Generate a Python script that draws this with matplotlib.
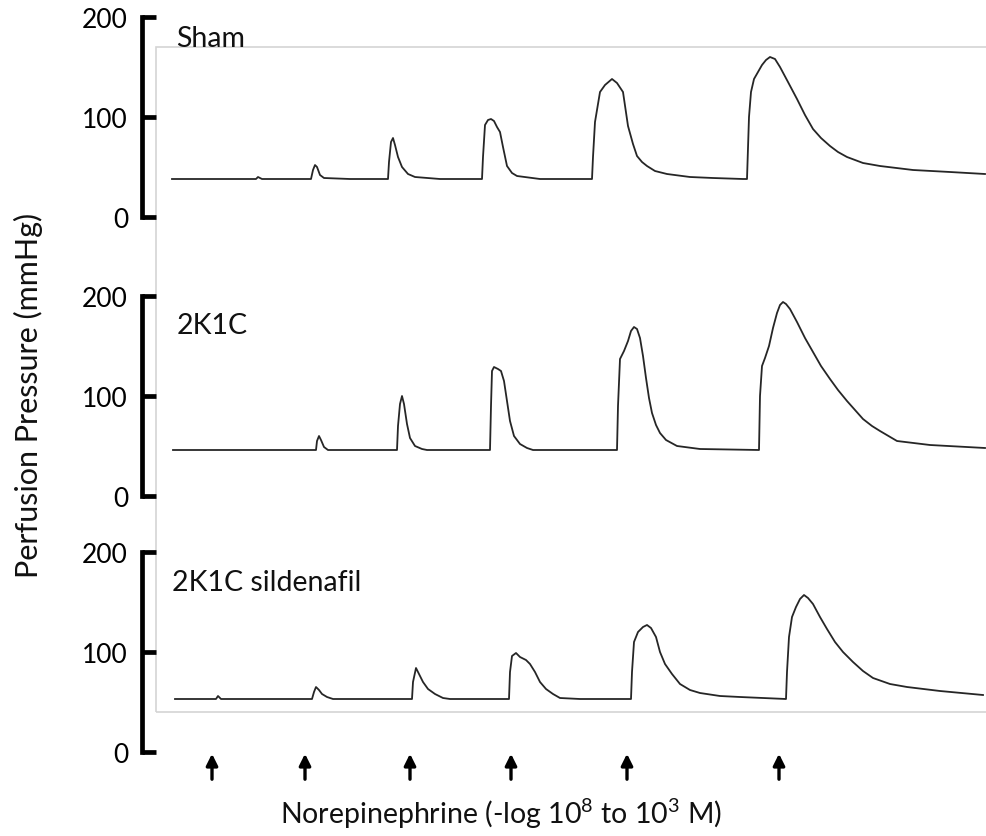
import matplotlib
matplotlib.use("Agg")
import matplotlib.pyplot as plt
from matplotlib.patches import Rectangle

plt.rcParams['font.family'] = ['Lato', 'DejaVu Sans']
plt.rcParams['mathtext.default'] = 'regular'

# traces (time in arbitrary units, pressure in mmHg)
sham_t = [172, 256, 258, 262, 311, 313, 315, 317, 320, 324, 350, 388, 389, 391,
          393, 395, 398, 402, 408, 415, 440, 482, 483, 485, 488, 491, 494, 497,
          500, 503, 507, 512, 517, 540, 560, 592, 593, 595, 600, 605, 612, 617,
          623, 628, 633, 637, 642, 647, 655, 667, 690, 713, 743, 747, 749, 751,
          754, 758, 762, 766, 770, 775, 780, 788, 797, 805, 813, 821, 830, 838,
          847, 863, 880, 913, 950, 985]
sham_p = [38, 38, 40, 38, 38, 47, 52, 50, 42, 39, 38, 38, 55, 75,
          79, 72, 60, 50, 43, 40, 38, 38, 60, 92, 97, 98, 96, 90,
          85, 70, 51, 44, 41, 38, 38, 38, 60, 95, 125, 132, 138, 134,
          125, 91, 73, 61, 55, 51, 46, 43, 40, 39, 38, 38, 100, 125,
          138, 145, 152, 157, 160, 158, 150, 135, 118, 102, 88, 79, 71, 65,
          60, 54, 51, 47, 45, 43]

k1c_t = [173, 316, 317, 319, 321, 324, 328, 397, 398, 400, 402, 404, 407, 410,
         415, 422, 427, 460, 490, 491, 492, 494, 498, 501, 504, 507, 510, 514,
         520, 527, 533, 617, 618, 620, 624, 628, 631, 634, 637, 640, 643, 646,
         649, 652, 656, 660, 666, 677, 700, 759, 760, 762, 765, 769, 773, 777,
         780, 783, 786, 790, 797, 805, 813, 821, 830, 838, 847, 855, 863, 872,
         880, 897, 930, 985]
k1c_p = [46, 46, 55, 60, 56, 49, 46, 46, 70, 92, 100, 92, 72, 58,
         50, 47, 46, 46, 46, 90, 125, 129, 127, 125, 115, 95, 75, 60,
         52, 48, 46, 46, 90, 137, 145, 155, 165, 169, 167, 158, 140, 118,
         98, 83, 71, 63, 56, 50, 47, 46, 100, 130, 138, 150, 168, 183,
         191, 194, 192, 187, 174, 158, 144, 130, 117, 106, 95, 86, 77, 70,
         65, 55, 51, 48]

sil_t = [175, 216, 218, 221, 312, 314, 316, 319, 322, 327, 333, 412, 413, 416,
         419, 423, 428, 435, 443, 450, 509, 510, 512, 516, 520, 526, 530, 535,
         540, 546, 553, 560, 580, 631, 632, 634, 638, 643, 647, 651, 656, 660,
         665, 672, 680, 690, 700, 720, 740, 786, 787, 789, 792, 796, 800, 804,
         808, 813, 820, 827, 835, 843, 853, 863, 873, 890, 907, 940, 983]
sil_p = [53, 53, 56, 53, 53, 60, 65, 62, 58, 55, 53, 53, 70, 84,
         78, 70, 63, 58, 54, 53, 53, 80, 96, 99, 95, 92, 88, 80,
         70, 63, 58, 54, 53, 53, 80, 110, 120, 125, 127, 124, 115, 100,
         88, 78, 68, 62, 59, 56, 55, 53, 80, 115, 135, 145, 153, 157,
         154, 148, 135, 123, 110, 100, 90, 81, 74, 68, 65, 61, 57]

# norepinephrine additions
dose_t = [212, 305, 410, 511, 627, 779]

panels = [("Sham", sham_t, sham_p), ("2K1C", k1c_t, k1c_p),
          ("2K1C sildenafil", sil_t, sil_p)]
yticks = [0, 100, 200]

W, H = 986, 837
fig = plt.figure(figsize=(W / 100, H / 100), dpi=100)

# light frame around the traces
fig.patches.append(Rectangle((156 / W, 1 - 713 / H), 840 / W, 665 / H,
                             transform=fig.transFigure, fill=False,
                             edgecolor='#d4d4d4', lw=1.2, zorder=-1))

zero_px = [218, 497, 753]
label_px = [(176, 47), (177, 334), (172, 591)]
axes = []
for (name, t, p), y0, (lx, ly) in zip(panels, zero_px, label_px):
    ax = fig.add_axes([142 / W, 1 - y0 / H, (W - 142) / W, 200 / H])
    ax.set_facecolor('none')
    ax.plot(t, p, color='#262626', lw=1.3)
    ax.set_xlim(142, 986)
    ax.set_ylim(0, 200)
    for s in ['top', 'right', 'bottom']:
        ax.spines[s].set_visible(False)
    ax.spines['left'].set_linewidth(3.4)
    ax.spines['left'].set_capstyle('projecting')
    ax.set_xticks([])
    ax.set_yticks(yticks)
    ax.tick_params(axis='y', direction='in', length=10, width=3.4,
                   labelsize=19, pad=10, colors='black')
    fig.text(lx / W, 1 - ly / H, name, fontsize=20.5, va='baseline',
             ha='left', color='#111111')
    axes.append(ax)

# arrows under the bottom trace
for d in dose_t:
    axes[2].annotate('', xy=(d, 1), xytext=(d, -30),
                     arrowprops=dict(arrowstyle='-|>', color='black', lw=2.4,
                                     mutation_scale=17),
                     annotation_clip=False)

fig.text(501 / W, 1 - 814 / H,
         'Norepinephrine (-log 10$^{8}$ to 10$^{3}$ M)',
         fontsize=20.5, ha='center', va='center', color='#111111')
fig.text(28 / W, 1 - 395 / H, 'Perfusion Pressure (mmHg)', fontsize=22,
         rotation=90, ha='center', va='center', color='#111111')

fig.savefig('out.png', dpi=100)
